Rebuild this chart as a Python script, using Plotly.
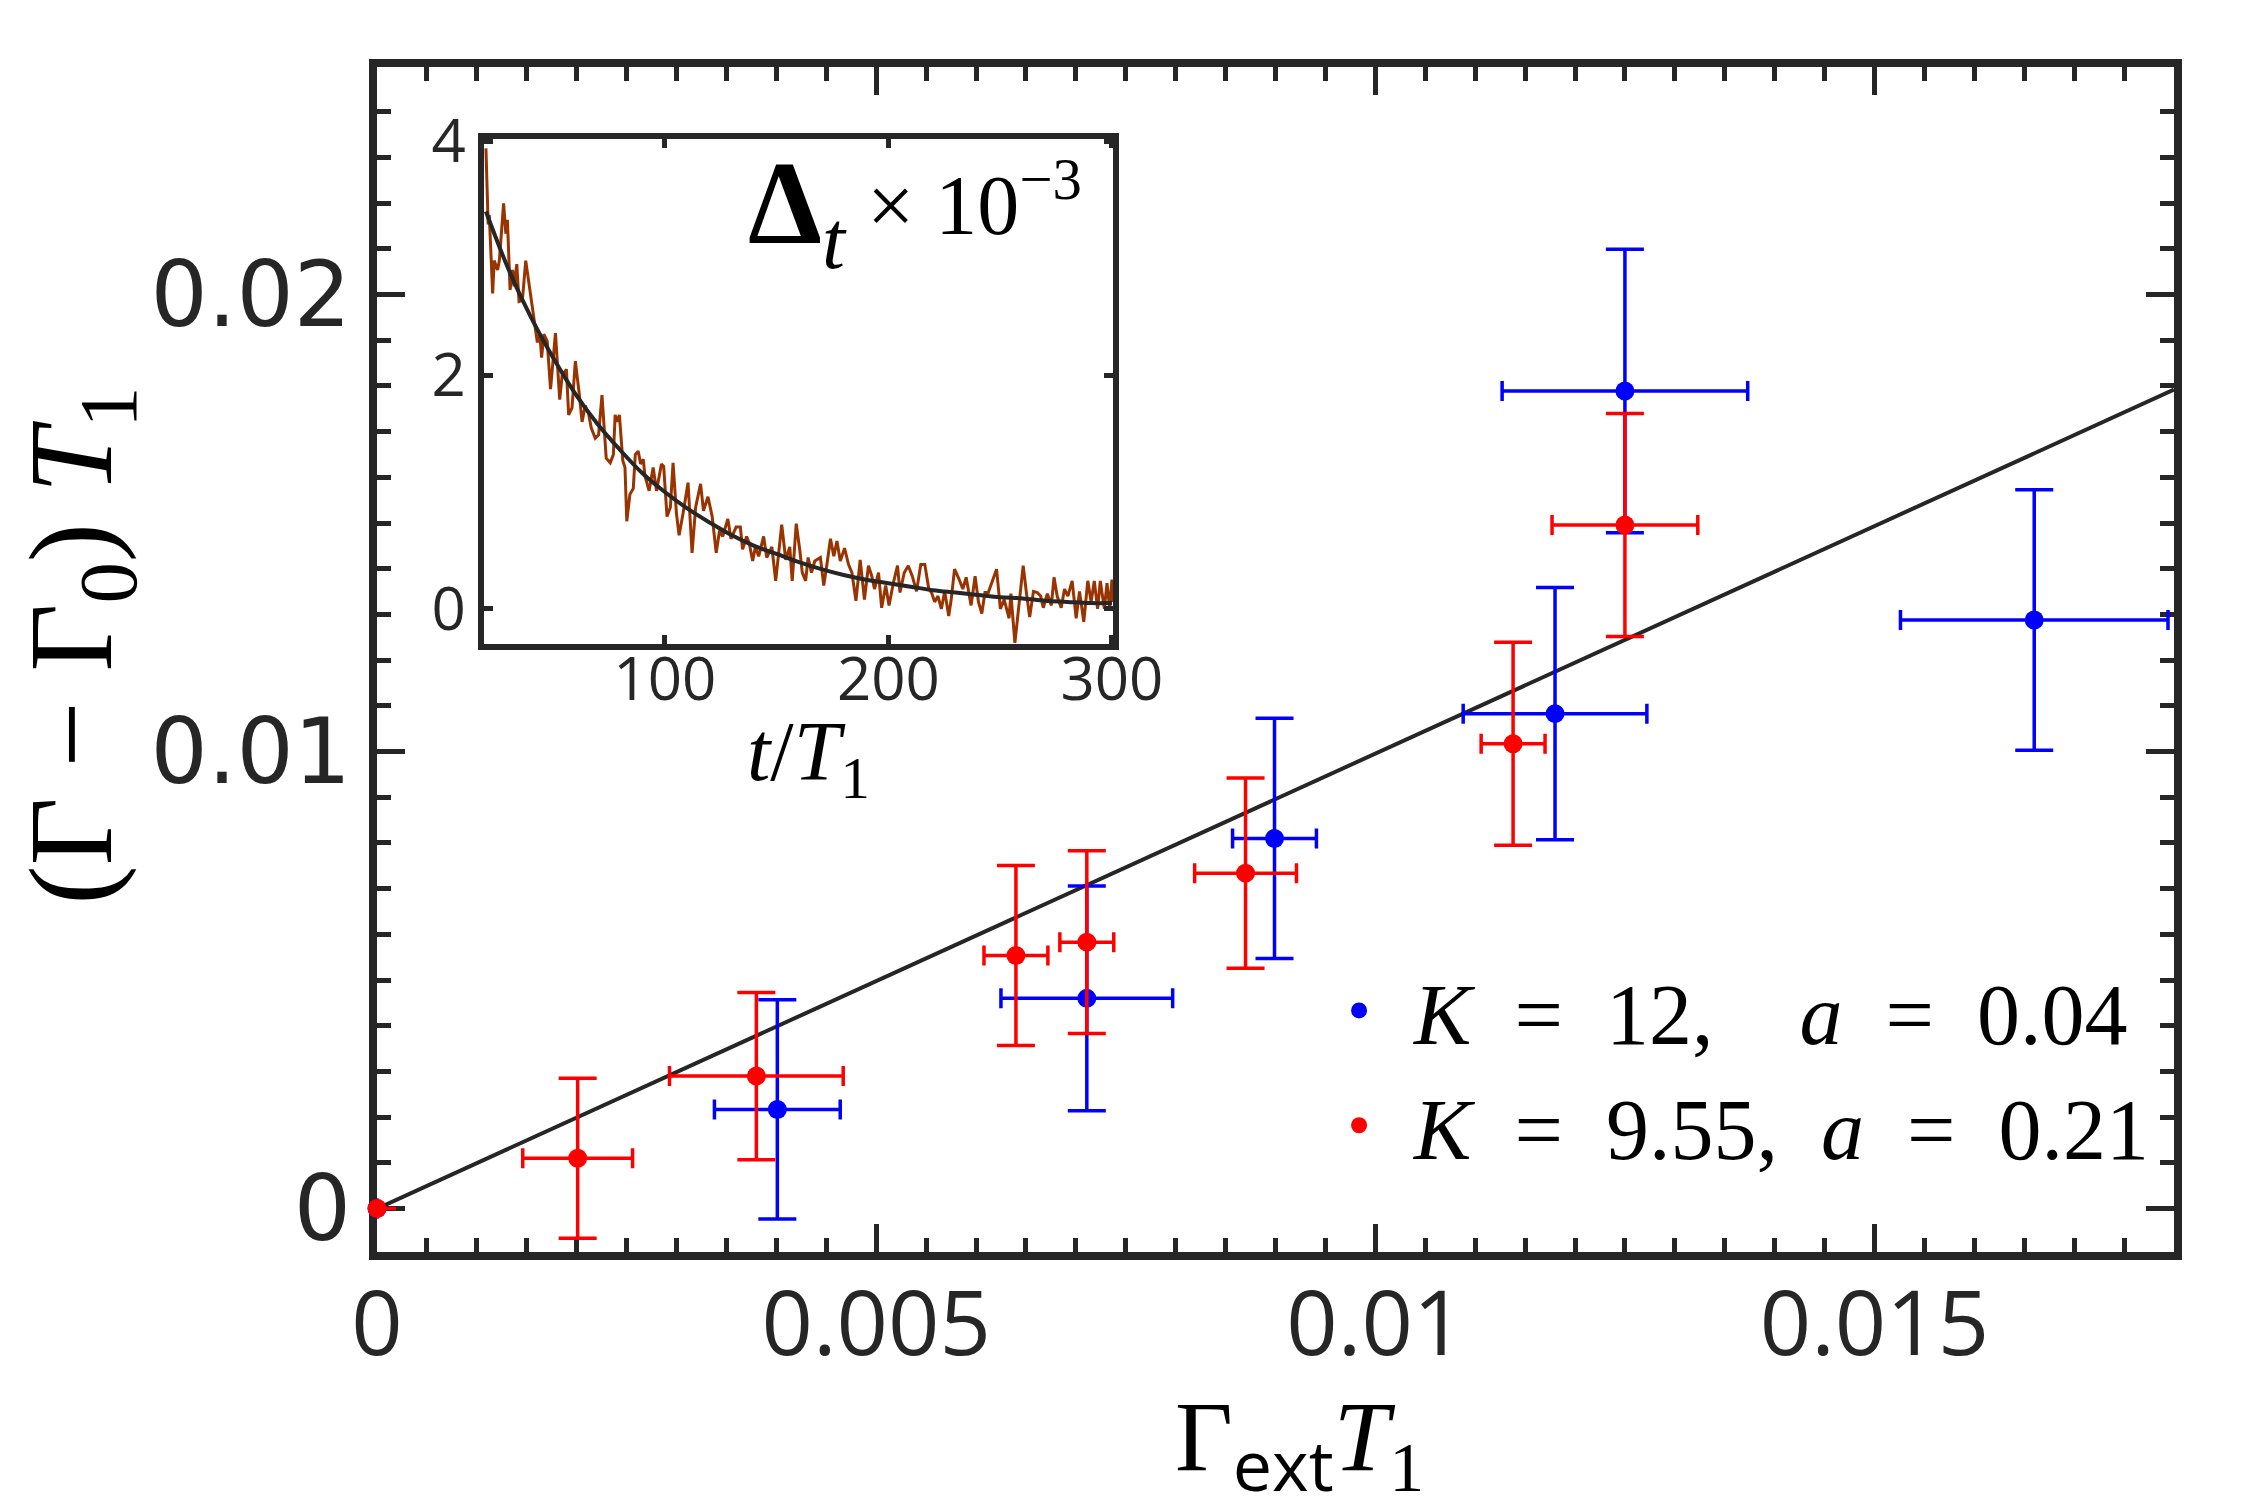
import plotly.graph_objects as go

# ---------------- main panel data ----------------
blue_x = [0.0, 0.00401, 0.00711, 0.00899, 0.0118, 0.0125, 0.0166]
blue_y = [0.0, 0.00217, 0.0046, 0.0081, 0.01083, 0.01789, 0.01288]
blue_xerr = [None, 0.00063, 0.00086, 0.00042, 0.00092, 0.00123, 0.00134]
blue_yerr = [None, 0.0024, 0.00246, 0.00263, 0.00276, 0.0031, 0.00285]

red_x = [0.0, 0.00201, 0.0038, 0.0064, 0.00711, 0.0087, 0.01138, 0.0125]
red_y = [0.0, 0.0011, 0.0029, 0.00554, 0.00583, 0.00734, 0.01017, 0.01496]
red_xerr = [None, 0.00055, 0.00087, 0.00032, 0.00027, 0.00051, 0.00032, 0.00073]
red_yerr = [None, 0.00175, 0.00183, 0.00197, 0.002, 0.00208, 0.00222, 0.00244]

fit_x = [0.0, 0.018]
fit_y = [0.0, 0.01792]

main_xticks = [0, 0.005, 0.01, 0.015]
main_xlabels = ["0", "0.005", "0.01", "0.015"]
main_yticks = [0, 0.01, 0.02]
main_ylabels = ["0", "0.01", "0.02"]

# ---------------- inset data ----------------
inset_t = [20, 21, 21.5, 23, 23.7, 25.2, 26, 27.9, 28.9, 29.6, 30.8, 31.9, 32.6, 33.8,
           34.8, 36.3, 37.8, 39.3, 40, 41.5, 43, 44.1, 44.9, 45.9, 47.4, 48.9, 51.1,
           53, 54.1, 56, 57, 58.5, 60, 61.8, 63, 64.4, 65.9, 67.1, 68.9, 70.4, 71.9,
           73.8, 75.6, 77, 77.8, 78.8, 79.7, 81.2, 82.2, 83, 84.4, 85.9, 86.8, 88.1,
           89.2, 90.4, 91.1, 93, 94.8, 96.3, 98.5, 99.5, 101, 102.5, 103.7, 105.2,
           106.4, 108.2, 110.4, 112.2, 113.8, 116, 117.3, 119.3, 121.2, 123, 124.5,
           125.9, 128.2, 129.6, 131.9, 133.8, 134.8, 136.6, 137.8, 139.3, 140.5, 142,
           144.2, 145.6, 147.9, 149.6, 152.3, 154.1, 155.9, 157, 158.8, 160.4, 161.5,
           163, 164.1, 165.6, 167.1, 169.6, 171.1, 172.6, 174.1, 175.6, 177, 178.5,
           180.4, 182.2, 183.7, 185.5, 187.4, 189.3, 191.1, 192.6, 193.8, 195.6, 197,
           198.8, 200.3, 202.2, 204.1, 205.2, 207.1, 208.9, 210.7, 212.6, 214.5, 216.3,
           218.1, 219.3, 220.7, 222.2, 223.7, 225.2, 227, 228.1, 229.6, 231.5, 233.3,
           234.8, 237, 238.8, 240.3, 241.8, 243.2, 244.7, 246.7, 248.4, 250.1, 251.8,
           254, 254.8, 256.6, 258.1, 260.3, 261.8, 263.2, 264.9, 266.6, 268.1, 269.3,
           271.1, 272.9, 274.1, 275.5, 277.3, 278.8, 280.3, 282.2, 284, 285.5, 287.4,
           289.2, 290.7, 292.1, 293.6, 294.8, 296.6, 297.8, 299, 300, 300.5]
inset_v = [3.94, 3.29, 3.37, 2.70, 2.98, 2.90, 2.98, 3.47, 3.21, 3.33, 2.73, 2.90, 2.76,
           2.95, 2.63, 2.64, 2.98, 2.77, 2.70, 2.47, 2.28, 2.36, 2.15, 2.35, 2.29, 1.88,
           2.36, 1.79, 2.00, 2.05, 1.66, 1.72, 2.12, 1.83, 1.60, 1.74, 1.67, 1.55, 1.46,
           1.49, 1.83, 1.29, 1.25, 1.32, 1.66, 1.60, 1.66, 1.27, 1.21, 0.75, 0.98, 1.03,
           1.32, 1.35, 1.24, 1.28, 1.14, 1.01, 1.21, 1.01, 1.24, 1.22, 0.79, 0.87, 1.25,
           0.82, 0.63, 0.82, 1.08, 0.48, 0.87, 1.07, 0.84, 0.96, 0.79, 0.48, 0.67, 0.62,
           0.77, 0.60, 0.70, 0.70, 0.51, 0.62, 0.56, 0.41, 0.53, 0.45, 0.62, 0.44, 0.53,
           0.24, 0.72, 0.42, 0.53, 0.24, 0.73, 0.50, 0.31, 0.24, 0.44, 0.31, 0.41, 0.44,
           0.20, 0.39, 0.60, 0.45, 0.58, 0.41, 0.52, 0.38, 0.31, 0.07, 0.42, 0.08, 0.37,
           0.28, 0.17, 0.31, 0.01, 0.20, 0.03, 0.22, 0.37, 0.14, 0.31, 0.37, 0.28, 0.15,
           0.38, 0.38, 0.17, 0.14, 0.06, 0.11, 0.00, 0.15, -0.06, 0.08, 0.34, 0.26, 0.17,
           0.27, 0.03, 0.28, 0.06, -0.04, 0.14, 0.14, 0.25, 0.34, 0.00, 0.08, -0.08, 0.13,
           -0.29, 0.00, 0.37, 0.13, -0.07, 0.15, 0.14, 0.11, 0.01, 0.13, 0.03, 0.27, 0.11,
           0.01, 0.17, 0.11, 0.24, -0.08, 0.15, -0.11, 0.24, 0.06, 0.24, 0.00, 0.24, 0.00,
           0.22, 0.00, 0.25, 0.06]

fit_t = [20, 30, 40, 50, 60, 70, 80, 90, 100, 110, 120, 130, 140, 150, 160, 170, 180,
         190, 200, 210, 220, 230, 240, 250, 260, 270, 280, 290, 300]
fit_v = [3.40, 2.91, 2.50, 2.15, 1.84, 1.58, 1.36, 1.16, 1.00, 0.86, 0.74, 0.63, 0.54,
         0.47, 0.40, 0.34, 0.29, 0.25, 0.22, 0.19, 0.16, 0.14, 0.12, 0.10, 0.09, 0.07,
         0.06, 0.05, 0.05]

inset_xticks = [100, 200, 300]
inset_yticks = [0, 2, 4]

BLUE = "#0000FF"
RED = "#FF0000"
BROWN = "#993300"
FRAME = "#262626"
SERIF = "Liberation Serif"
SANS = "Open Sans"

NB = "\u00a0"
EN = "\u2002"

fig = go.Figure()

fig.add_trace(go.Scatter(x=fit_x, y=fit_y, mode="lines",
                         line=dict(color=FRAME, width=4), showlegend=False,
                         xaxis="x", yaxis="y"))

fig.add_trace(go.Scatter(
    x=blue_x, y=blue_y, mode="markers", cliponaxis=False,
    marker=dict(color=BLUE, size=19),
    error_x=dict(type="data", array=blue_xerr, color=BLUE, thickness=3.5, width=10),
    error_y=dict(type="data", array=blue_yerr, color=BLUE, thickness=3.5, width=19),
    name="<i>K</i>" + EN + "=" + EN + "12," + NB * 4 + "<i>a</i>" + EN + "=" + EN + "0.04",
))
fig.add_trace(go.Scatter(
    x=red_x, y=red_y, mode="markers", cliponaxis=False,
    marker=dict(color=RED, size=19),
    error_x=dict(type="data", array=red_xerr, color=RED, thickness=3.5, width=10),
    error_y=dict(type="data", array=red_yerr, color=RED, thickness=3.5, width=19),
    name="<i>K</i>" + EN + "=" + EN + "9.55," + NB * 2 + "<i>a</i>" + EN + "=" + EN + "0.21",
))

# inset traces
fig.add_trace(go.Scatter(x=inset_t, y=inset_v, mode="lines",
                         line=dict(color=BROWN, width=3), showlegend=False,
                         xaxis="x2", yaxis="y2"))
fig.add_trace(go.Scatter(x=fit_t, y=fit_v, mode="lines",
                         line=dict(color=FRAME, width=4, shape="spline"),
                         showlegend=False, xaxis="x2", yaxis="y2"))

minor_common = dict(ticks="inside", ticklen=14, tickwidth=5, tickcolor=FRAME)

fig.update_layout(
    width=2263, height=1511,
    margin=dict(l=369, r=97, t=59, b=267),
    paper_bgcolor="white", plot_bgcolor="white",
    showlegend=True,
    legend=dict(x=0.5159, y=0.2565, xanchor="left", yanchor="top",
                font=dict(family=SERIF, size=86, color="black"),
                bgcolor="rgba(0,0,0,0)", itemwidth=100, tracegroupgap=0),
    xaxis=dict(range=[0, 0.018], domain=[0, 1], anchor="y", layer="below traces",
               showline=True, linecolor=FRAME, linewidth=8, mirror="ticks",
               ticks="inside", ticklen=28, tickwidth=5, tickcolor=FRAME,
               tickvals=main_xticks, ticktext=main_xlabels,
               tickfont=dict(family=SANS, size=90, color=FRAME),
               ticklabelstandoff=-13,
               minor=dict(dtick=0.0005, **minor_common),
               showgrid=False, zeroline=False),
    yaxis=dict(range=[-0.00095, 0.02498], domain=[0, 1], anchor="x", layer="below traces",
               showline=True, linecolor=FRAME, linewidth=8, mirror="ticks",
               ticks="inside", ticklen=28, tickwidth=5, tickcolor=FRAME,
               tickvals=main_yticks, ticktext=main_ylabels,
               tickfont=dict(family="DejaVu Sans", size=90, color=FRAME),
               minor=dict(dtick=0.001, **minor_common),
               showgrid=False, zeroline=False),
    xaxis2=dict(range=[19.1, 300.5], domain=[0.0595, 0.4096], anchor="y2",
                showline=True, linecolor=FRAME, linewidth=6, mirror="ticks",
                ticks="inside", ticklen=9, tickwidth=5, tickcolor=FRAME,
                tickvals=inset_xticks,
                tickfont=dict(family=SANS, size=60, color=FRAME),
                ticklabelstandoff=-22,
                showgrid=False, zeroline=False),
    yaxis2=dict(range=[-0.3, 4.02], domain=[0.5131, 0.9392], anchor="x2",
                showline=True, linecolor=FRAME, linewidth=6, mirror="ticks",
                ticks="inside", ticklen=9, tickwidth=5, tickcolor=FRAME,
                tickvals=inset_yticks,
                tickfont=dict(family=SANS, size=60, color=FRAME),
                showgrid=False, zeroline=False),
)

annotations = [
    dict(text="(Γ − Γ<sub>0</sub>)" + NB + "<i>T</i><sub>1</sub>",
         x=-0.165, y=0.512, xref="paper", yref="paper", textangle=-90,
         showarrow=False, xanchor="center", yanchor="middle",
         font=dict(family=SERIF, size=118, color="black")),
    dict(text="Γ<sub><span style=\"font-family:'Open Sans'\">ext</span></sub><i>T</i><sub>1</sub>",
         x=0.5136, y=-0.164, xref="paper", yref="paper",
         showarrow=False, xanchor="center", yanchor="middle",
         font=dict(family=SERIF, size=100, color="black")),
    dict(text="<i>t</i>/<i>T</i><sub>1</sub>",
         x=0.2404, y=0.4169, xref="paper", yref="paper",
         showarrow=False, xanchor="center", yanchor="middle",
         font=dict(family=SERIF, size=84, color="black")),
    dict(text="<b>Δ</b><sub><i>t</i></sub>",
         x=0.2051, y=0.878, xref="paper", yref="paper",
         showarrow=False, xanchor="left", yanchor="middle",
         font=dict(family=SERIF, size=118, color="black")),
    dict(text="×" + NB + "10<sup>−3</sup>",
         x=0.2715, y=0.888, xref="paper", yref="paper",
         showarrow=False, xanchor="left", yanchor="middle",
         font=dict(family=SERIF, size=84, color="black")),
]
fig.update_layout(annotations=annotations)

fig.write_html("out.html")
